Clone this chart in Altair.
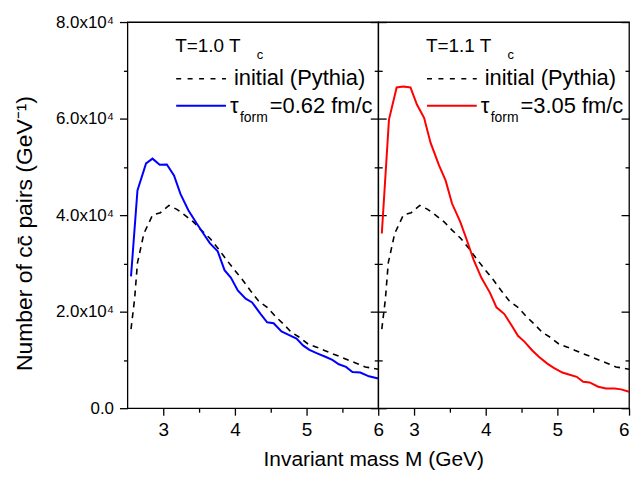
import altair as alt
import pandas as pd

# ---------------- data ----------------
init_mass = [2.55, 2.60, 2.64, 2.73, 2.85, 2.96, 3.08, 3.19, 3.30, 3.42, 3.53, 3.65, 3.76,
             3.88, 3.99, 4.10, 4.22, 4.33, 4.45, 4.56, 4.68, 4.79, 4.90, 5.02, 5.14, 5.25,
             5.36, 5.48, 5.59, 5.71, 5.82, 6.00]
init_vals = [16400, 22600, 30100, 36200, 40000, 40500, 42000, 41200, 40000, 38600, 36900,
             35200, 33200, 30800, 28700, 26700, 24300, 22200, 20900, 19100, 17400, 15700,
             14700, 13300, 12650, 11950, 11300, 10600, 9900, 9230, 8550, 8060]

blue_mass = [2.55, 2.64, 2.76, 2.85, 2.95, 3.05, 3.15, 3.24, 3.35, 3.465, 3.557, 3.65, 3.76,
             3.855, 3.945, 4.04, 4.15, 4.24, 4.36, 4.45, 4.54, 4.65, 4.75, 4.86, 4.95, 5.04,
             5.14, 5.27, 5.36, 5.45, 5.55, 5.64, 5.75, 5.87, 6.00]
blue_vals = [27300, 45100, 50700, 51700, 50450, 50500, 48200, 44400, 41000, 38300, 36250,
             34200, 32500, 28600, 27000, 24400, 22700, 21900, 19500, 17800, 17600, 15900,
             15200, 14400, 13000, 12100, 11400, 10600, 10000, 9100, 8550, 7500, 7400, 6600, 6150]

red_mass = [2.55, 2.65, 2.757, 2.85, 2.95, 3.04, 3.14, 3.23, 3.35, 3.44, 3.53, 3.645, 3.735,
            3.83, 3.94, 4.06, 4.15, 4.26, 4.36, 4.45, 4.54, 4.65, 4.745, 4.86, 4.95, 5.07,
            5.16, 5.27, 5.36, 5.45, 5.57, 5.68, 5.80, 5.89, 6.00]
red_vals = [36200, 59800, 66450, 66650, 66450, 62900, 60150, 55000, 50250, 47200, 42400,
            38600, 34900, 30800, 27000, 23900, 20900, 19500, 17200, 15000, 13800, 11950,
            10600, 9230, 8340, 7380, 6970, 6500, 5470, 5330, 4450, 4100, 4100, 3900, 3420]

x_major = [3, 4, 5, 6]
x_minor = [3.5, 4.5, 5.5]
y_major = [0, 20000, 40000, 60000, 80000]
y_minor = [10000, 30000, 50000, 70000]

temp_labels = ["T=1.0 T", "T=1.1 T"]
temp_sub = "c"
init_label = "initial (Pythia)"
tau_sym = "\u03c4"
tau_sub = "form"
tau_labels = ["=0.62 fm/c", "=3.05 fm/c"]
model_colors = ["#0000ff", "#ff0000"]

x_title = "Invariant mass M (GeV)"
y_title = "Number of cc\u0304 pairs (GeV\u207b\u00b9)"

FONT = "Liberation Sans"
W, H = 252, 388

xs = alt.Scale(domain=[2.5, 6], nice=False, zero=False)
ys = alt.Scale(domain=[0, 80000], nice=False)

y_label_expr = "datum.value == 0 ? '0.0' : format(datum.value / 10000, '.1f') + 'x10\u2074'"


def txt(s, x, y, size, color="black"):
    return alt.Chart(pd.DataFrame({"s": [s]})).mark_text(
        font=FONT, fontSize=size, align="left", baseline="alphabetic", color=color
    ).encode(text="s:N", x=alt.value(x), y=alt.value(y))


def panel(model_mass, model_vals, color, t_label, tau_label, left):
    init_df = pd.DataFrame({"M": init_mass, "N": init_vals})
    mod_df = pd.DataFrame({"M": model_mass, "N": model_vals})

    if left:
        x_major_axis = alt.Axis(orient="bottom", values=x_major, tickSize=7, labelFontSize=19,
                                labelPadding=5, labelFlush=False, format="d",
                                title=x_title, titleFontSize=21, titleFontWeight="normal",
                                titleX=W - 5, titleY=58, titleAlign="center",
                                titleBaseline="alphabetic")
        y0 = alt.Axis(orient="left", values=y_major, tickSize=8, labelFontSize=17,
                      labelPadding=6, labelExpr=y_label_expr, title=y_title,
                      titleFontSize=23, titleFontWeight="normal", titleAngle=270,
                      titleX=-103, titleY=212, titleAlign="center", titleBaseline="middle")
        y1 = alt.Axis(orient="left", values=y_minor, tickSize=4, labels=False, title=None)
        y2 = alt.Axis(orient="right", values=y_major, tickSize=8, labels=False, title=None)
        y3 = alt.Axis(orient="right", values=y_minor, tickSize=4, labels=False, title=None)
    else:
        x_major_axis = alt.Axis(orient="bottom", values=x_major, tickSize=7, labelFontSize=19,
                                labelPadding=5, labelFlush=True, format="d", title=None)
        y0 = alt.Axis(orient="left", values=y_major, tickSize=8, labels=False, title=None)
        y1 = alt.Axis(orient="left", values=y_minor, tickSize=4, labels=False, title=None)
        y2 = alt.Axis(orient="left", offset=-W, values=y_major, tickSize=8, labels=False,
                      title=None)
        y3 = alt.Axis(orient="left", offset=-W, values=y_minor, tickSize=4, labels=False,
                      title=None)
    x_minor_axis = alt.Axis(orient="bottom", values=x_minor, tickSize=4, labels=False,
                            title=None)

    l1 = alt.Chart(init_df).mark_line(color="black", strokeDash=[6, 5], strokeWidth=1.6).encode(
        x=alt.X("M:Q", scale=xs, axis=x_major_axis), y=alt.Y("N:Q", scale=ys, axis=y0))
    l2 = alt.Chart(mod_df).mark_line(color=color, strokeWidth=2).encode(
        x=alt.X("M:Q", scale=xs, axis=x_minor_axis), y=alt.Y("N:Q", scale=ys, axis=y1))
    l3 = alt.Chart(init_df).mark_line(opacity=0).encode(
        x=alt.X("M:Q", scale=xs, axis=None), y=alt.Y("N:Q", scale=ys, axis=y2))
    l4 = alt.Chart(init_df).mark_line(opacity=0).encode(
        x=alt.X("M:Q", scale=xs, axis=None), y=alt.Y("N:Q", scale=ys, axis=y3))

    leg_dash = alt.Chart(pd.DataFrame({"s": [init_label]})).mark_rule(
        color="black", strokeDash=[5, 6.5], strokeWidth=1.6).encode(
        x=alt.value(49), x2=alt.value(99), y=alt.value(57))
    leg_solid = alt.Chart(pd.DataFrame({"s": [tau_label]})).mark_rule(
        color=color, strokeWidth=2).encode(
        x=alt.value(49), x2=alt.value(99), y=alt.value(84))

    texts = [
        txt(t_label, 48, 30, 19),
        txt(temp_sub, 130, 37, 13),
        txt(init_label, 107, 63, 22),
        txt(tau_sym, 103, 91, 22),
        txt(tau_sub, 113, 100, 14),
        txt(tau_label, 143, 91, 22),
    ]

    return alt.layer(l1, l2, l3, l4, leg_dash, leg_solid, *texts).resolve_axis(
        x="independent", y="independent").properties(width=W, height=H)


left_panel = panel(blue_mass, blue_vals, model_colors[0], temp_labels[0], tau_labels[0], True)
right_panel = panel(red_mass, red_vals, model_colors[1], temp_labels[1], tau_labels[1], False)

chart = alt.hconcat(left_panel, right_panel, spacing=0, bounds="flush").properties(
    padding={"left": 5, "top": 3, "right": 0, "bottom": 0},
    background="white",
).configure_view(
    stroke="black", strokeWidth=1.3
).configure_axis(
    grid=False, domain=False, tickColor="black", tickWidth=1.3, labelColor="black",
    titleColor="black", labelFont=FONT, titleFont=FONT
)

chart.save("out.html", embed_options={"renderer": "svg", "actions": False})
